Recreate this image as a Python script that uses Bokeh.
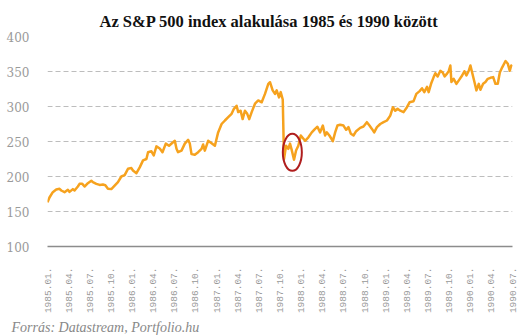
import math
from bokeh.plotting import figure
from bokeh.models import Range1d, FixedTicker, Title
from bokeh.embed import file_html
from bokeh.resources import INLINE

# months since 1985.01 (decimal) and S&P 500 index level
months = [0.0, 0.28, 0.75, 1.24, 1.71, 1.95, 2.42, 2.89, 3.13, 3.60, 3.84, 4.31, 4.55, 4.94,
          5.26, 5.73, 6.22, 6.44, 6.93, 7.40, 7.87, 8.21, 8.58, 9.06, 9.53, 10.0, 10.48, 10.95,
          11.42, 11.91, 12.13, 12.62, 13.09, 13.56, 14.04, 14.27, 14.75, 15.08, 15.46, 15.93,
          16.32, 16.79, 17.25, 17.82, 18.07, 18.31, 18.53, 19.02, 19.49, 19.96, 20.20, 20.44,
          20.91, 21.38, 21.86, 22.09, 22.33, 22.80, 23.29, 23.76, 24.22, 24.71, 25.18, 25.65,
          26.13, 26.46, 26.84, 27.07, 27.41, 27.70, 28.02, 28.35, 28.63, 28.98, 29.45, 29.91,
          30.40, 30.87, 31.34, 31.58, 31.96, 32.29, 32.53, 32.86, 33.10, 33.39, 33.45, 33.57,
          33.86, 34.18, 34.42, 34.66, 34.99, 35.28, 35.60, 35.95, 36.56, 37.03, 37.51, 37.98,
          38.31, 38.69, 39.08, 39.40, 39.64, 40.01, 40.50, 40.83, 41.15, 41.54, 42.01, 42.39,
          42.72, 43.06, 43.43, 43.81, 44.38, 44.85, 45.33, 45.70, 46.05, 46.37, 46.76, 47.23,
          47.70, 48.18, 48.65, 49.03, 49.36, 49.69, 50.07, 50.54, 51.02, 51.39, 51.96, 52.35,
          52.82, 53.16, 53.48, 53.87, 54.10, 54.44, 54.81, 55.05, 55.38, 55.76, 56.09, 56.37,
          56.71, 56.94, 57.18, 57.33, 57.65, 58.04, 58.36, 58.85, 59.17, 59.46, 59.79, 60.03,
          60.27, 60.60, 60.88, 61.21, 61.45, 61.83, 62.16, 62.49, 62.87, 63.26, 63.58, 63.91,
          64.20, 64.54, 65.01, 65.34, 65.62, 65.82, 65.96]
sp500 = [163, 170, 177.6, 181.4, 182.4, 180, 177.6, 181, 178, 182, 180, 185.7, 189.5, 189.5,
         185.7, 190.5, 194, 192, 189.5, 188, 188.5, 187.6, 182.4, 182, 187, 192, 200, 202,
         211, 212, 208.6, 204.7, 213, 223, 225, 234.7, 236, 230, 243, 240,
         234.7, 247, 244, 249, 251, 239.5, 234.7, 237, 247, 252.4, 247, 232,
         231, 234.7, 239.5, 245.7, 237, 251, 247.6, 244, 263, 275, 280, 284.7,
         289.5, 296.7, 301, 292, 294, 282, 294, 289.5, 282, 292, 304, 308.6,
         306, 318, 332.4, 334.7, 323, 318, 323, 313, 320.5, 310, 282, 225,
         244, 239.5, 247, 238, 224, 237, 244, 258.6, 251, 256, 263, 268,
         271, 263, 272.8, 258.6, 263, 258.6, 250.5, 263, 272.8, 274, 272.8, 266.7,
         270.5, 261, 258.6, 264.7, 269.5, 271.4, 277.6, 272.8, 268, 263, 270.5, 275,
         277.6, 280, 287, 299, 294, 296.7, 294, 292, 299, 306, 307.6, 318,
         322, 326, 320.5, 328, 320.5, 332.4, 342, 347.6, 343, 351, 348.6, 343,
         347, 350.4, 358.6, 335, 339.5, 332.4, 337, 344.3, 350.4, 344.3, 351, 358.6,
         348.6, 335, 323, 332.4, 324, 332.4, 335, 339.5, 341, 342, 332.4, 332.4,
         348.6, 356, 365, 361, 351, 358.6, 357]

tick_months = list(range(0, 67, 3))
tick_labels = [f"{1985 + m // 12}.{m % 12 + 1:02d}." for m in tick_months]
y_ticks = [100, 150, 200, 250, 300, 350, 400]

# highlighted region (post-crash bottom)
highlight_months = (33.4, 36.1)
highlight_values = (208, 261)

title_text = "Az S&P 500 index alakulása 1985 és 1990 között"
source_text = "Forrás: Datastream, Portfolio.hu"

p = figure(width=522, height=335, output_backend="svg", toolbar_location=None,
           x_range=Range1d(0, 66), y_range=Range1d(100, 400),
           min_border_left=47, min_border_right=10, min_border_top=36, min_border_bottom=89)
p.outline_line_color = None
p.background_fill_color = "white"
p.border_fill_color = "white"

p.title.text = title_text
p.title.align = "left"
p.title.offset = 52
p.title.standoff = 12
p.title.text_font = "Liberation Serif"
p.title.text_font_size = "16.5px"
p.title.text_font_style = "bold"
p.title.text_color = "#111111"

# x axis
xa = p.xaxis[0]
xa.ticker = FixedTicker(ticks=tick_months)
xa.major_label_overrides = {m: l for m, l in zip(tick_months, tick_labels)}
xa.major_label_orientation = math.pi / 2
xa.major_label_text_font = "Liberation Mono"
xa.major_label_text_font_size = "9.5px"
xa.major_label_text_color = "#999999"
xa.major_label_standoff = 15
xa.major_tick_line_color = None
xa.minor_tick_line_color = None
xa.axis_line_color = "#8c8c8c"
xa.axis_line_width = 1.5

# y axis
ya = p.yaxis[0]
ya.ticker = FixedTicker(ticks=y_ticks)
ya.major_label_text_font = "DejaVu Serif"
ya.major_label_text_font_size = "12px"
ya.major_label_text_color = "#9a9a9a"
ya.major_label_standoff = 12
ya.major_tick_line_color = None
ya.minor_tick_line_color = None
ya.axis_line_color = None

p.xgrid.grid_line_color = None
p.ygrid.ticker = FixedTicker(ticks=y_ticks[1:])
p.ygrid.grid_line_color = "#bdbdbd"
p.ygrid.grid_line_dash = "5 3"
p.ygrid.grid_line_width = 1

p.line(months, sp500, line_color="#F6A21E", line_width=2.5, line_join="round")

cx = (highlight_months[0] + highlight_months[1]) / 2
cy = (highlight_values[0] + highlight_values[1]) / 2
p.ellipse(x=[cx], y=[cy], width=[highlight_months[1] - highlight_months[0]],
          height=[highlight_values[1] - highlight_values[0]],
          fill_color=None, line_color="#B01E1E", line_width=2)

src = Title(text=source_text, align="left", text_font="Liberation Serif",
            text_font_size="14px", text_font_style="italic", text_color="#888888",
            offset=-36, standoff=2)
p.add_layout(src, "below")

open("out.html", "w").write(file_html(p, INLINE))
